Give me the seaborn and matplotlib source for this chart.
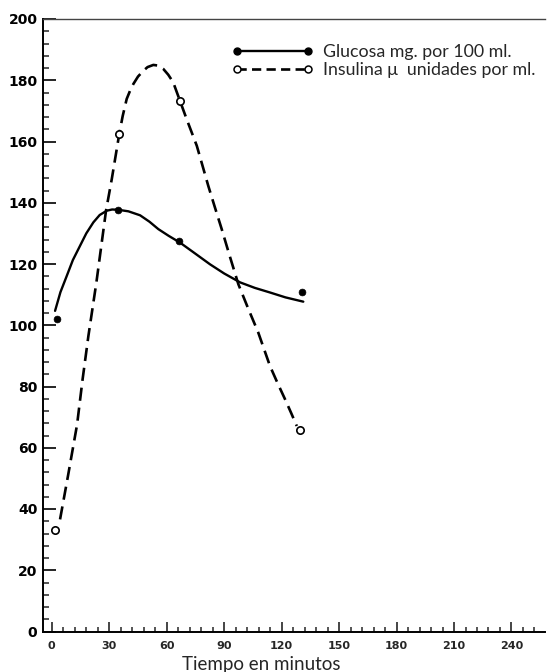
import matplotlib
matplotlib.use("Agg")
import matplotlib.pyplot as plt
import seaborn as sns
import pandas as pd
from matplotlib.lines import Line2D
from matplotlib.ticker import MultipleLocator

# ---- data ----
glu_t = [2.6, 34.7, 66.6, 130.5]
glu_v = [102.2, 137.6, 127.4, 111.0]
ins_t = [1.7, 35.2, 66.9, 129.6]
ins_v = [33.0, 162.4, 173.3, 65.7]

# fitted (hand-drawn) curves
glu_curve_t = [1.7, 4.5, 7.8, 11.0, 14.7, 18.0, 21.7, 25.0, 28.7, 31.5, 34.7, 40.0, 46.1,
               51.0, 55.6, 61.0, 66.9, 74.0, 82.6, 90.0, 98.3, 106.0, 113.9, 122.0, 131.3]
glu_curve_v = [104.7, 110.8, 116.1, 121.3, 125.9, 130.0, 133.6, 136.0, 137.4, 137.8, 137.7,
               137.2, 135.9, 133.8, 131.4, 129.2, 127.0, 123.8, 119.9, 116.9, 114.0, 112.2,
               110.7, 109.1, 107.7]
ins_curve_t = [4.3, 8.5, 13.2, 16.0, 19.1, 23.3, 28.3, 31.3, 35.2, 37.0, 39.1, 41.0, 42.6,
               45.0, 47.8, 50.0, 53.0, 55.5, 58.2, 60.8, 63.4, 66.9, 70.4, 75.7, 78.5,
               81.7, 85.0, 88.7, 92.7, 97.4, 102.5, 107.8, 113.9, 117.8, 121.8, 125.0, 127.9]
ins_curve_v = [36.6, 51.0, 67.6, 82.0, 96.5, 114.1, 137.4, 147.7, 162.4, 168.3, 173.9, 176.8,
               178.8, 181.2, 183.1, 184.3, 185.0, 184.8, 183.7, 181.8, 179.3, 173.3, 167.3,
               158.6, 152.5, 145.5, 138.8, 131.4, 123.0, 113.4, 105.5, 97.6, 86.7, 81.2,
               75.8, 71.3, 67.1]

x_ticks = [0, 30, 60, 90, 120, 150, 180, 210, 240]
y_ticks = [0, 20, 40, 60, 80, 100, 120, 140, 160, 180, 200]
labels = ["Glucosa mg. por 100 ml.", "Insulina \u03bc  unidades por ml."]
x_title = "Tiempo en minutos"

sns.set_style("ticks")
plt.rcParams['font.family'] = ['DejaVu Sans']

fig = plt.figure(figsize=(5.47, 6.72), dpi=100)
ax = fig.add_axes([43 / 547, (672 - 631.5) / 672, 502 / 547, 612.5 / 672])

gc = pd.DataFrame({"t": glu_curve_t, "v": glu_curve_v})
ic = pd.DataFrame({"t": ins_curve_t, "v": ins_curve_v})
gp = pd.DataFrame({"t": glu_t, "v": glu_v})
ip = pd.DataFrame({"t": ins_t, "v": ins_v})

sns.lineplot(data=gc, x="t", y="v", ax=ax, color="black", lw=1.7, sort=False)
sns.lineplot(data=ic, x="t", y="v", ax=ax, color="black", lw=1.9, sort=False,
             linestyle=(0, (5, 2.6)))
sns.scatterplot(data=gp, x="t", y="v", ax=ax, color="black", s=24, edgecolor="black",
                linewidth=0.5, zorder=5)
sns.scatterplot(data=ip, x="t", y="v", ax=ax, color="white", s=28, edgecolor="black",
                linewidth=1.2, zorder=5)

ax.set_xlim(-4.6, 257.5)
ax.set_ylim(0, 200)
ax.set_xticks(x_ticks)
ax.set_yticks(y_ticks)
ax.xaxis.set_minor_locator(MultipleLocator(6))
ax.yaxis.set_minor_locator(MultipleLocator(4))
ax.tick_params(axis="y", which="major", direction="in", length=9, width=1.2,
               labelsize=10, pad=4, colors="black")
ax.tick_params(axis="y", which="minor", direction="in", length=4, width=1.1)
ax.tick_params(axis="x", which="major", direction="in", length=7, width=1.2,
               labelsize=8, pad=7)
ax.tick_params(axis="x", which="minor", direction="in", length=3.6, width=1.1)
for lab in ax.get_yticklabels():
    lab.set_fontweight("bold")
for lab in ax.get_xticklabels():
    lab.set_fontweight("bold")

ax.set_ylabel("")
ax.set_xlabel(x_title, fontsize=13.5, family="Lato")
ax.xaxis.set_label_coords(0.434, -0.040)

for s in ["left", "bottom"]:
    ax.spines[s].set_linewidth(1.4)
    ax.spines[s].set_color("black")
ax.spines["top"].set_linewidth(1.0)
ax.spines["top"].set_color("#444444")
ax.spines["right"].set_visible(False)

handles = [
    Line2D([0], [0], color="black", lw=1.7, marker="o", markersize=5,
           markerfacecolor="black", markeredgecolor="black"),
    Line2D([0], [0], color="black", lw=1.9, linestyle=(0, (3.5, 2)), marker="o", markersize=5,
           markerfacecolor="white", markeredgecolor="black", markeredgewidth=1.1),
]
leg = ax.legend(handles, labels, loc="upper left", bbox_to_anchor=(189 / 502, 1 - 25 / 612.5),
                frameon=False, numpoints=2, handlelength=4.6, handletextpad=0.5,
                borderaxespad=0, borderpad=0, labelspacing=0.1,
                prop={"family": "Lato", "size": 12.8})

fig.savefig("out.png", dpi=100)
